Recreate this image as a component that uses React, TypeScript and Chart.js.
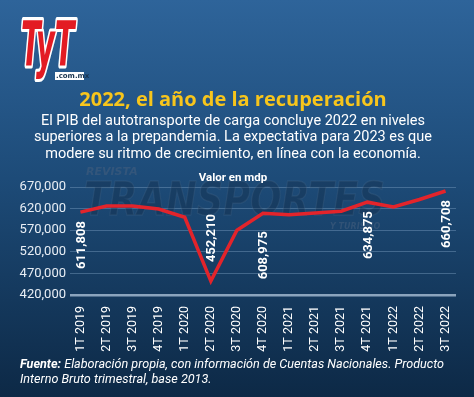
import React, { useEffect, useRef } from "react";
import { Chart, registerables } from "chart.js";

Chart.register(...registerables);

const xLabels = [
  "1T 2019", "2T 2019", "3T 2019", "4T 2019",
  "1T 2020", "2T 2020", "3T 2020", "4T 2020",
  "1T 2021", "2T 2021", "3T 2021", "4T 2021",
  "1T 2022", "2T 2022", "3T 2022",
];
const pibValues = [
  611808, 626000, 626000, 619000,
  600000, 452210, 570000, 608975,
  606000, 610000, 614000, 634875,
  624000, 641000, 660708,
];
const labeledIndices = [0, 5, 7, 11, 14];
const yTicks = [420000, 470000, 520000, 570000, 620000, 670000];

const titleText = "2022, el año de la recuperación";
const subtitleLines = [
  "El PIB del autotransporte de carga concluye 2022 en niveles",
  "superiores a la prepandemia. La expectativa para 2023 es que",
  "modere su ritmo de crecimiento, en línea con la economía.",
];
const unitText = "Valor en mdp";
const sourceBold = "Fuente:";
const sourceLine1 = " Elaboración propia, con información de Cuentas Nacionales. Producto";
const sourceLine2 = "Interno Bruto trimestral, base 2013.";

const fmt = (v: number) => v.toLocaleString("en-US");

const backgroundPlugin = {
  id: "bg",
  beforeDraw(chart: any) {
    const { ctx, width, height } = chart;
    ctx.save();
    const g = ctx.createLinearGradient(0, 0, 0, height);
    g.addColorStop(0, "#2e649a");
    g.addColorStop(0.45, "#1d4b78");
    g.addColorStop(1, "#0d2946");
    ctx.fillStyle = g;
    ctx.fillRect(0, 0, width, height);
    ctx.restore();
  },
};

const watermarkPlugin = {
  id: "watermark",
  beforeDatasetsDraw(chart: any) {
    const { ctx } = chart;
    ctx.save();
    ctx.textBaseline = "middle";
    ctx.textAlign = "left";
    ctx.font = 'bold italic 11px "DejaVu Sans"';
    ctx.fillStyle = "rgba(70,95,125,0.55)";
    ctx.fillText("REVISTA", 86, 172);
    ctx.font = 'bold italic 46px "DejaVu Sans"';
    ctx.save();
    ctx.translate(84, 203);
    ctx.scale(0.8, 1);
    ctx.fillStyle = "rgba(15,35,60,0.3)";
    ctx.fillText("TRANSPORTES", 0, 0);
    ctx.lineWidth = 1.5;
    ctx.strokeStyle = "rgba(90,120,150,0.2)";
    ctx.strokeText("TRANSPORTES", 0, 0);
    ctx.restore();
    ctx.font = 'bold italic 8px "DejaVu Sans"';
    ctx.fillStyle = "rgba(70,95,125,0.55)";
    ctx.fillText("Y TURISMO", 330, 227);
    ctx.restore();
  },
};

const dataLabelPlugin = {
  id: "dataLabels",
  afterDatasetsDraw(chart: any) {
    const { ctx } = chart;
    const meta = chart.getDatasetMeta(0);
    ctx.save();
    ctx.font = 'bold 13px "Roboto"';
    ctx.fillStyle = "#ffffff";
    ctx.textBaseline = "middle";
    labeledIndices.forEach((i) => {
      const p = meta.data[i];
      if (!p) return;
      const value = pibValues[i];
      ctx.save();
      const prev = pibValues[i - 1];
      const next = pibValues[i + 1];
      const isDip = prev !== undefined && next !== undefined && value < prev && value < next && value < 500000;
      if (isDip) {
        ctx.translate(p.x + 1, p.y - 19);
        ctx.rotate(-Math.PI / 2);
        ctx.textAlign = "left";
      } else {
        const gap = i === 7 ? 18 : 9;
        ctx.translate(p.x + 1, p.y + gap);
        ctx.rotate(-Math.PI / 2);
        ctx.textAlign = "right";
      }
      ctx.fillText(fmt(value), 0, 0);
      ctx.restore();
    });
    ctx.restore();
  },
};

const textPlugin = {
  id: "texts",
  afterDraw(chart: any) {
    const { ctx } = chart;
    ctx.save();
    // Logo
    ctx.save();
    ctx.translate(21, 50);
    ctx.scale(0.72, 1.55);
    ctx.font = 'bold italic 40px "DejaVu Sans"';
    ctx.textBaseline = "middle";
    ctx.textAlign = "left";
    ctx.lineJoin = "round";
    ctx.lineWidth = 4;
    ctx.strokeStyle = "#ffffff";
    ctx.strokeText("TyT", 0, 0);
    ctx.fillStyle = "#e31b23";
    ctx.fillText("TyT", 0, 0);
    ctx.restore();
    ctx.fillStyle = "#ffffff";
    ctx.fillRect(55, 72, 29, 8);
    ctx.font = 'bold 7px "DejaVu Sans"';
    ctx.fillStyle = "#1a3550";
    ctx.textBaseline = "middle";
    ctx.textAlign = "left";
    ctx.fillText(".com.mx", 56, 76.5);

    // Title
    ctx.textAlign = "center";
    ctx.textBaseline = "middle";
    ctx.font = 'bold 20px "Open Sans"';
    ctx.fillStyle = "#f7c51c";
    ctx.fillText(titleText, 233, 100);

    ctx.font = '14.5px "Roboto"';
    ctx.fillStyle = "#ffffff";
    subtitleLines.forEach((line, k) => {
      ctx.fillText(line, 233, 121 + k * 16.7);
    });

    ctx.font = 'bold 11.5px "Roboto"';
    ctx.fillText(unitText, 233, 178);

    // Footer
    ctx.textAlign = "left";
    ctx.font = 'bold italic 12.6px "Roboto"';
    ctx.fillText(sourceBold, 20, 365);
    const w = ctx.measureText(sourceBold).width;
    ctx.font = 'italic 12.6px "Roboto"';
    ctx.fillText(sourceLine1, 20 + w, 365);
    ctx.fillText(sourceLine2, 20, 380);
    ctx.restore();
  },
};

export default function App() {
  const canvasRef = useRef<HTMLCanvasElement | null>(null);

  useEffect(() => {
    document.body.style.margin = "0";
    const canvas = canvasRef.current;
    if (!canvas) return;
    const chart = new Chart(canvas, {
      type: "line",
      data: {
        datasets: [
          {
            data: pibValues.map((v, i) => ({ x: i, y: v })),
            borderColor: "#e3242b",
            borderWidth: 3.5,
            pointRadius: 0,
            tension: 0,
            fill: false,
          },
        ],
      },
      options: {
        responsive: false,
        animation: false,
        devicePixelRatio: 1,
        layout: { padding: { top: 187, left: 0, right: 18, bottom: 0 } },
        plugins: {
          legend: { display: false },
          tooltip: { enabled: false },
          title: { display: false },
        },
        scales: {
          x: {
            type: "linear",
            min: -0.4,
            max: xLabels.length - 1 + 0.4,
            afterBuildTicks(scale: any) {
              scale.ticks = xLabels.map((_, i) => ({ value: i }));
            },
            afterFit(scale: any) {
              scale.height = 102;
            },
            grid: { display: false, drawTicks: false },
            border: { display: false },
            ticks: {
              minRotation: 90,
              maxRotation: 90,
              autoSkip: false,
              padding: 11,
              color: "#ffffff",
              font: { family: "Roboto", size: 12.5 },
              callback: (v: any) => xLabels[Math.round(Number(v))] ?? "",
            },
          },
          y: {
            min: yTicks[0],
            max: yTicks[yTicks.length - 1],
            afterBuildTicks(scale: any) {
              scale.ticks = yTicks.map((v) => ({ value: v }));
            },
            afterFit(scale: any) {
              scale.width = 70;
            },
            border: { display: false },
            grid: {
              drawTicks: false,
              color: (c: any) =>
                c.tick && c.tick.value === yTicks[0] ? "#8ba4bd" : "rgba(120,155,190,0.45)",
              lineWidth: (c: any) => (c.tick && c.tick.value === yTicks[0] ? 2.5 : 1),
            },
            ticks: {
              padding: 4,
              color: "#e8eef5",
              font: { family: "Roboto", size: 13 },
              callback: (v: any) => fmt(Number(v)),
            },
          },
        },
      },
      plugins: [backgroundPlugin, watermarkPlugin, dataLabelPlugin, textPlugin],
    } as any);
    return () => chart.destroy();
  }, []);

  return (
    <div style={{ width: 474, height: 397 }}>
      <canvas ref={canvasRef} width={474} height={397} style={{ display: "block" }} />
    </div>
  );
}
